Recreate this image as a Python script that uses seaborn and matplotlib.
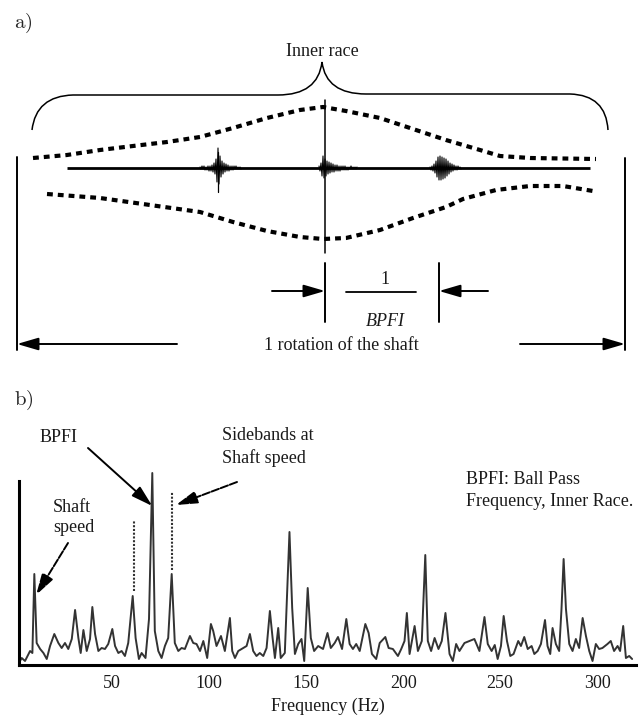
import matplotlib
matplotlib.use("Agg")
import matplotlib.pyplot as plt
from matplotlib.path import Path
from matplotlib.patches import PathPatch
import seaborn as sns

# ---------------- spectrum (panel b) ----------------
freq_hz = [2.2, 3.4, 5.1, 7.7, 8.9, 9.9, 11.1, 12.9, 14.6, 16.3, 18.0, 20.2, 22.3,
           24.0, 25.7, 27.4, 29.2, 30.9, 32.6, 33.8, 35.2, 36.9, 38.6, 39.8, 41.2,
           42.9, 44.6, 46.3, 48.0, 50.1, 51.5, 53.2, 54.9, 56.6, 58.3, 60.6, 62.1,
           63.8, 65.2, 67.2, 69.0, 70.7, 72.0, 73.8, 75.5, 77.2, 78.9, 80.7, 82.3,
           84.1, 85.8, 87.5, 90.1, 91.8, 93.5, 95.3, 97.0, 99.0, 100.9, 102.1, 103.8,
           106.1, 108.1, 110.7, 111.9, 113.3, 115.0, 116.7, 119.3, 121.0, 122.7,
           124.4, 126.1, 127.9, 129.6, 131.3, 132.7, 133.9, 135.6, 136.9, 139.0,
           139.9, 141.4, 142.8, 144.2, 145.9, 147.6, 149.0, 150.8, 152.4, 154.1,
           156.2, 158.7, 161.0, 162.7, 164.7, 166.4, 168.5, 170.7, 172.4, 174.1,
           175.8, 177.6, 180.5, 182.2, 183.9, 186.1, 187.9, 190.8, 192.5, 194.7,
           197.3, 199.0, 200.7, 201.9, 203.3, 205.9, 207.6, 209.6, 211.4, 212.7,
           214.4, 216.2, 218.2, 219.9, 221.8, 223.9, 225.6, 227.3, 229.0, 231.6,
           234.2, 236.7, 239.3, 241.9, 243.6, 245.6, 247.2, 248.7, 250.4, 251.8,
           253.5, 255.2, 256.9, 259.3, 260.7, 262.4, 264.2, 266.2, 267.6, 269.3,
           271.0, 273.1, 274.4, 275.8, 277.0, 278.7, 280.4, 281.6, 282.7, 283.9,
           285.6, 287.3, 289.0, 290.7, 292.5, 294.2, 295.9, 297.6, 299.3, 301.0,
           302.7, 305.3, 307.0, 308.7, 310.5, 311.8, 313.4, 314.8, 316.5, 318.0]
amplitude = [3, 7, 4, 14, 12, 91, 22, 16, 12, 6, 19, 31, 22,
             17, 22, 16, 26, 55, 27, 12, 35, 14, 26, 58, 31,
             14, 17, 16, 21, 36, 19, 12, 14, 9, 22, 69, 27,
             6, 12, 7, 46, 192, 34, 14, 7, 19, 27, 91, 22,
             14, 17, 16, 29, 22, 21, 14, 24, 7, 41, 34, 19,
             29, 14, 47, 14, 7, 14, 16, 19, 31, 14,
             9, 12, 9, 17, 54, 27, 7, 37, 7, 12,
             57, 133, 57, 11, 21, 26, 4, 77, 27, 14,
             19, 16, 32, 17, 22, 28, 16, 46, 21, 16,
             21, 14, 41, 32, 11, 6, 22, 28, 17, 16,
             9, 16, 24, 52, 11, 39, 14, 24, 110, 24,
             14, 27, 16, 24, 52, 11, 4, 21, 14, 22,
             24, 26, 14, 48, 21, 14, 20, 6, 19, 49,
             24, 9, 11, 24, 19, 28, 16, 19, 11, 14,
             21, 45, 19, 11, 37, 21, 14, 56, 106, 56,
             21, 14, 26, 17, 47, 29, 14, 4, 21, 16,
             17, 21, 24, 14, 19, 14, 39, 7, 9, 6]
tick_hz = [50, 100, 150, 200, 250, 300]
tick_labels = ["50", "100", "150", "200", "250", "300"]
sideband_hz = [61.5, 81.0]
sideband_lo = [74, 95]
sideband_hi = [145, 173]

# ---------------- waveform sketch (panel a), pixel units ----------------
upper_x = [33, 67, 100, 133, 167, 200, 233, 267, 300, 323, 346, 380, 413, 446, 480, 500, 530, 596]
upper_y = [158, 155, 150, 146, 142, 137, 128, 118, 110, 107, 111, 118, 129, 140, 150, 156, 158, 159]
lower_x = [47, 100, 150, 200, 233, 267, 300, 323, 346, 380, 413, 446, 463, 496, 530, 563, 593]
lower_y = [194, 198, 205, 212, 222, 231, 237, 239, 238, 230, 218, 207, 199, 190, 186, 186, 191]
signal_x = [67, 590]
signal_y0 = 168
burst_x0 = [220, 325, 440]
burst_start = [-20, -6, -10]
burst_amp = [
    [1, 1, 2, 1, 2, 2, 1, 2, 2, 3, 2, 3, 3, 4, 5, 6, 9, 14, 20, 16, 12, 9, 7, 6, 5, 4,
     4, 3, 3, 3, 2, 2, 2, 2, 2, 1, 2, 1, 1, 1, 1, 1],
    [2, 3, 5, 8, 12, 10, 9, 8, 7, 6, 6, 5, 5, 4, 4, 4, 3, 3, 3, 3, 2, 3, 2, 2, 2, 2,
     2, 2, 1, 2, 1, 1, 2, 1, 1, 1, 1, 1, 1],
    [1, 2, 2, 3, 4, 5, 7, 9, 11, 12, 12, 12, 11, 11, 10, 10, 9, 8, 7, 6, 5, 4, 4, 3,
     3, 2, 2, 2, 2, 1, 1, 1],
]
spike_x = 325
spike_y = [100, 253]

sns.set_theme(style="white")
plt.rcParams["font.family"] = ["Liberation Serif", "DejaVu Serif"]
plt.rcParams["mathtext.fontset"] = "cm"

W, H = 643, 718
fig = plt.figure(figsize=(W / 100, H / 100), dpi=100)
fig.patch.set_facecolor("white")

# spectrum axes
base_px, top_px, left_px, right_px = 665, 465, 19, 636
ax = fig.add_axes([left_px / W, (H - base_px) / H, (right_px - left_px) / W,
                   (base_px - top_px) / H])
ax.set_facecolor("none")
sns.lineplot(x=freq_hz, y=amplitude, ax=ax, color="#333333", linewidth=1.4,
             sort=True, estimator=None)
ax.vlines(sideband_hz, sideband_lo, sideband_hi, colors="#333333",
          linestyles=(0, (1, 0.8)), linewidth=1.5)
ax.set_xlim(2, 320)
ax.set_ylim(0, 200)
ax.set_yticks([])
ax.set_xticks(tick_hz)
ax.set_xticklabels(tick_labels)
ax.tick_params(axis="x", length=0, pad=7, labelsize=13, colors="#1a1a1a")
ax.set_xlabel("Frequency (Hz)", fontsize=13, labelpad=4, color="#1a1a1a")
sns.despine(ax=ax, top=True, right=True)
for side in ("left", "bottom"):
    ax.spines[side].set_linewidth(2.2)
    ax.spines[side].set_color("black")
ax.spines["left"].set_bounds(0, 184)

# overlay in figure pixel units for the sketch and labels
ov = fig.add_axes([0, 0, 1, 1])
ov.set_xlim(0, W)
ov.set_ylim(H, 0)
ov.axis("off")

head = "-|>,head_length=1.3,head_width=0.38"

def arrow(ax_, tip, tail, tip_coords="data", tail_coords="data", ls="-"):
    ax_.annotate("", xy=tip, xycoords=tip_coords, xytext=tail,
                 textcoords=tail_coords, annotation_clip=False,
                 arrowprops=dict(arrowstyle=head, color="black", lw=1.4,
                                 linestyle=ls, shrinkA=0, shrinkB=0,
                                 mutation_scale=10))

# panel b annotations
txt = dict(fontsize=13, color="#1a1a1a", va="center")
ov.text(40, 438, "BPFI", ha="left", **txt)
ov.text(222, 435, "Sidebands at", ha="left", **txt)
ov.text(222, 458, "Shaft speed", ha="left", **txt)
ov.text(72, 508, "Shaft", ha="center", **txt)
ov.text(74, 527, "speed", ha="center", **txt)
ov.text(466, 480, "BPFI: Ball Pass", ha="left", **txt)
ov.text(466, 501, "Frequency, Inner Race.", ha="left", **txt)
arrow(ax, (70.7, 159), (88, 448), tail_coords=ov.transData)
arrow(ax, (82.9, 160), (237, 482), tail_coords=ov.transData, ls=(0, (4, 1)))
arrow(ax, (10.8, 70), (68, 543), tail_coords=ov.transData, ls=(0, (4, 1)))

# panel labels
ov.text(14, 23, r"$\mathrm{a)}$", fontsize=15, ha="left", va="center")
ov.text(14, 400, r"$\mathrm{b)}$", fontsize=15, ha="left", va="center")

# envelope (dotted) and signal
sns.lineplot(x=upper_x, y=upper_y, ax=ov, color="black", linewidth=3.0,
             sort=False, estimator=None, dashes=False, linestyle=(0, (1.4, 1.2)))
sns.lineplot(x=lower_x, y=lower_y, ax=ov, color="black", linewidth=3.0,
             sort=False, estimator=None, dashes=False, linestyle=(0, (1.4, 1.2)))
ov.plot(signal_x, [signal_y0, signal_y0], color="black", lw=2.0, solid_capstyle="butt")
for x0, s0, amps in zip(burst_x0, burst_start, burst_amp):
    xs = [x0 + s0 + i for i in range(len(amps))]
    ys = [signal_y0 + a * (1 if i % 2 else -1) for i, a in enumerate(amps)]
    ov.plot(xs, ys, color="black", lw=0.8)
ov.plot([spike_x, spike_x], spike_y, color="black", lw=1.1)
# burst 1 has an asymmetric tail below the line
ov.plot([burst_x0[0] - 2, burst_x0[0] - 2], [152, 192], color="black", lw=0.9)

# curly brace over the inner race
verts = [(32, 130), (36, 96), (73, 95), (278, 95), (318, 95), (322, 62),
         (326, 94), (366, 94), (570, 94), (606, 95), (608, 130)]
codes = [Path.MOVETO, Path.CURVE3, Path.CURVE3, Path.LINETO, Path.CURVE3, Path.CURVE3,
         Path.CURVE3, Path.CURVE3, Path.LINETO, Path.CURVE3, Path.CURVE3]
ov.add_patch(PathPatch(Path(verts, codes), fill=False, lw=1.1, edgecolor="black"))
ov.text(322, 52, "Inner race", fontsize=13, ha="center", va="center", color="#1a1a1a")

# rotation extent
ov.plot([17, 17], [157, 350], color="black", lw=1.4)
ov.plot([625, 625], [158, 350], color="black", lw=1.4)
arrow(ov, (17, 344), (177, 344))
arrow(ov, (625, 344), (520, 344))
ov.text(341, 345, "1 rotation of the shaft", fontsize=13, ha="center", va="center",
        color="#1a1a1a")

# 1/BPFI period
ov.plot([325, 325], [263, 322], color="black", lw=1.4)
ov.plot([439, 439], [263, 322], color="black", lw=1.4)
arrow(ov, (325, 291), (272, 291))
arrow(ov, (439, 291), (488, 291))
ov.plot([346, 416], [292, 292], color="black", lw=1.3)
ov.text(385, 279, "1", fontsize=13, ha="center", va="center", color="#1a1a1a")
ov.text(385, 321, "BPFI", fontsize=13, ha="center", va="center", style="italic",
        color="#1a1a1a")

fig.savefig("out.png", dpi=100, facecolor="white")
